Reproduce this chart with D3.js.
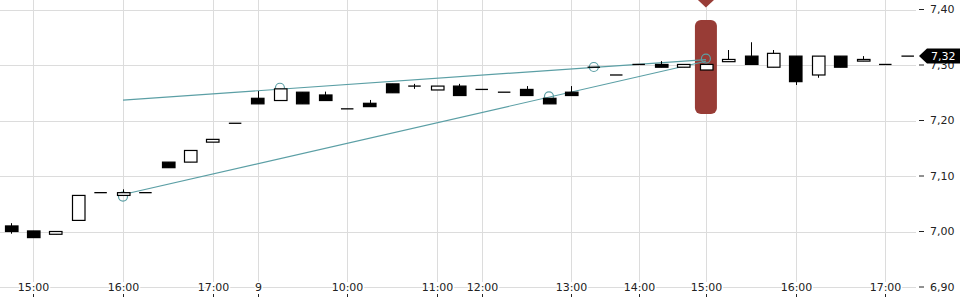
<!DOCTYPE html>
<html>
<head>
<meta charset="utf-8">
<script src="https://cdn.jsdelivr.net/npm/d3@7"></script>
<style>
    body { margin: 0; background: #fff; }
    svg text { font-family: "DejaVu Sans", sans-serif; font-size: 11px; }
    .grid { stroke: #dcdcdc; stroke-width: 1; shape-rendering: crispEdges; }
    .trend { stroke: #5b9fa5; stroke-width: 1.2; fill: none; }
</style>
</head>
<body>
<div id="my_dataviz"></div>
<script>
// 15 minute candles, two sessions (day 8 afternoon, day 9)
var times = ["14:45", "15:00", "15:15", "15:30", "15:45", "16:00", "16:15", "16:30", "16:45", "17:00", "17:15",
             "09:00", "09:15", "09:30", "09:45", "10:00", "10:15", "10:30", "10:45", "11:00", "11:30",
             "12:00", "12:15", "12:30", "12:45", "13:00", "13:15", "13:45", "14:00", "14:15", "14:45",
             "15:00", "15:15", "15:30", "15:45", "16:00", "16:15", "16:30", "16:45", "17:00", "17:15"];
var open  = [7.010, 7.001, 6.995, 7.020, 7.070, 7.065, 7.070, 7.125, 7.125, 7.161, 7.195,
             7.240, 7.236, 7.251, 7.246, 7.221, 7.231, 7.266, 7.262, 7.255, 7.262,
             7.256, 7.251, 7.256, 7.240, 7.251, 7.296, 7.282, 7.301, 7.301, 7.296,
             7.291, 7.306, 7.316, 7.296, 7.316, 7.282, 7.316, 7.307, 7.301, 7.316];
var high  = [7.015, 7.001, 7.000, 7.065, 7.070, 7.076, 7.070, 7.125, 7.146, 7.166, 7.195,
             7.253, 7.257, 7.251, 7.252, 7.221, 7.237, 7.266, 7.266, 7.262, 7.266,
             7.256, 7.251, 7.262, 7.240, 7.262, 7.296, 7.282, 7.301, 7.307, 7.301,
             7.301, 7.327, 7.341, 7.327, 7.316, 7.316, 7.316, 7.316, 7.301, 7.316];
var low   = [6.996, 6.989, 6.995, 7.020, 7.070, 7.065, 7.070, 7.115, 7.125, 7.161, 7.195,
             7.230, 7.236, 7.230, 7.236, 7.221, 7.225, 7.250, 7.257, 7.255, 7.245,
             7.256, 7.251, 7.245, 7.230, 7.245, 7.296, 7.282, 7.301, 7.296, 7.296,
             7.291, 7.306, 7.301, 7.296, 7.264, 7.277, 7.296, 7.307, 7.301, 7.316];
var close = [7.000, 6.989, 7.000, 7.065, 7.070, 7.070, 7.070, 7.115, 7.146, 7.166, 7.195,
             7.230, 7.257, 7.230, 7.236, 7.221, 7.225, 7.250, 7.262, 7.262, 7.245,
             7.256, 7.251, 7.245, 7.230, 7.245, 7.296, 7.282, 7.301, 7.296, 7.301,
             7.301, 7.310, 7.301, 7.321, 7.270, 7.316, 7.296, 7.310, 7.301, 7.316];

// x axis labels (candle index -> label)
var xTickIdx    = [1, 5, 9, 11, 15, 19, 21, 25, 28, 31, 35, 39];
var xTickLabels = ["15:00", "16:00", "17:00", "9", "10:00", "11:00", "12:00", "13:00", "14:00", "15:00", "16:00", "17:00"];
var yTicks = [6.9, 7.0, 7.1, 7.2, 7.3, 7.4];

// drawn trend lines [candle index, price] and their anchor points
var trendUpper = [[5, 7.2368], [31, 7.3097]];
var trendLower = [[5, 7.0667], [31, 7.3067]];
var trendAnchors = [[5, 7.063], [12, 7.259], [24, 7.2436], [26, 7.2964], [31, 7.3115]];

// event marker on this candle
var eventIdx = 31;

var width = 960, height = 300;
var data = times.map(function(t, i) {
    return { t: t, i: i, o: open[i], h: high[i], l: low[i], c: close[i] };
});

var x = d3.scaleLinear().domain([0, data.length - 1]).range([10.9, 907.7]);
var y = d3.scaleLinear().domain([6.9, 7.4]).range([287, 9.5]);
var fmt = function(v) { return v.toFixed(2).replace(".", ","); };

var svg = d3.select("#my_dataviz")
    .append("svg")
        .attr("width", width)
        .attr("height", height);

// grid
svg.selectAll(".hgrid")
    .data(yTicks)
    .enter()
    .append("line")
    .attr("class", "grid")
    .attr("x1", 0).attr("x2", 916)
    .attr("y1", function(d) { return Math.round(y(d)) + 0.5; })
    .attr("y2", function(d) { return Math.round(y(d)) + 0.5; });

svg.selectAll(".vgrid")
    .data(xTickIdx)
    .enter()
    .append("line")
    .attr("class", "grid")
    .attr("x1", function(d) { return Math.round(x(d)) + 0.5; })
    .attr("x2", function(d) { return Math.round(x(d)) + 0.5; })
    .attr("y1", 0).attr("y2", 282);

// event marker
var ex = x(eventIdx);
svg.append("rect")
    .attr("x", ex - 11).attr("y", 20)
    .attr("width", 22).attr("height", 94)
    .attr("rx", 6)
    .attr("fill", "#983c36");
svg.append("path")
    .attr("d", "M" + (ex - 8) + ",0 L" + (ex + 8) + ",0 L" + ex + ",7.5 Z")
    .attr("fill", "#983c36");

// trend lines
var line = d3.line()
    .x(function(d) { return x(d[0]); })
    .y(function(d) { return y(d[1]); });
[trendUpper, trendLower].forEach(function(t) {
    svg.append("path")
        .datum(t)
        .attr("class", "trend")
        .attr("d", line);
});
svg.selectAll(".anchor")
    .data(trendAnchors)
    .enter()
    .append("circle")
    .attr("class", "trend")
    .attr("cx", function(d) { return x(d[0]); })
    .attr("cy", function(d) { return y(d[1]); })
    .attr("r", 4.5);

// candles
var bw = 12.5;
var candle = svg.selectAll(".candle")
    .data(data)
    .enter()
    .append("g")
    .attr("class", "candle");

candle.append("line")
    .attr("x1", function(d) { return Math.round(x(d.i)) + 0.5; })
    .attr("x2", function(d) { return Math.round(x(d.i)) + 0.5; })
    .attr("y1", function(d) { return y(d.h); })
    .attr("y2", function(d) { return y(d.l); })
    .attr("stroke", "#000")
    .attr("stroke-width", 1);

candle.filter(function(d) { return d.o !== d.c; })
    .append("rect")
    .attr("x", function(d) { return Math.round(x(d.i) - bw / 2) + 0.5; })
    .attr("y", function(d) { return y(Math.max(d.o, d.c)); })
    .attr("width", bw)
    .attr("height", function(d) { return Math.max(1, Math.abs(y(d.o) - y(d.c))); })
    .attr("fill", function(d) { return d.c < d.o ? "#000" : "#fff"; })
    .attr("stroke", "#000")
    .attr("stroke-width", 1.2);

candle.filter(function(d) { return d.o === d.c; })
    .append("line")
    .attr("x1", function(d) { return x(d.i) - bw / 2; })
    .attr("x2", function(d) { return x(d.i) + bw / 2; })
    .attr("y1", function(d) { return y(d.c); })
    .attr("y2", function(d) { return y(d.c); })
    .attr("stroke", "#000")
    .attr("stroke-width", 1.3);

// y axis (right)
var ya = svg.selectAll(".ytick")
    .data(yTicks)
    .enter()
    .append("g")
    .attr("transform", function(d) { return "translate(0," + y(d) + ")"; });
ya.append("line")
    .attr("x1", 919).attr("x2", 924)
    .attr("stroke", "#222");
ya.append("text")
    .attr("x", 930)
    .attr("dy", "0.35em")
    .attr("fill", "#222")
    .text(fmt);

// x axis (bottom)
var xa = svg.selectAll(".xtick")
    .data(xTickIdx)
    .enter()
    .append("g")
    .attr("transform", function(d) { return "translate(" + (Math.round(x(d)) + 0.5) + ",0)"; });
xa.append("line")
    .attr("y1", 294).attr("y2", 297)
    .attr("stroke", "#222");
xa.append("text")
    .attr("y", 291)
    .attr("text-anchor", "middle")
    .attr("fill", "#222")
    .attr("stroke", "#fff").attr("stroke-width", 3).attr("paint-order", "stroke")
    .text(function(d, i) { return xTickLabels[i]; });

// last price label
var last = close[close.length - 1], ly = y(last);
svg.append("path")
    .attr("d", "M919," + ly + " L927," + (ly - 7.5) + " L960," + (ly - 7.5) + " L960," + (ly + 7.5) + " L927," + (ly + 7.5) + " Z")
    .attr("fill", "#000");
svg.append("text")
    .attr("x", 931)
    .attr("y", ly)
    .attr("dy", "0.36em")
    .attr("fill", "#fff")
    .text(fmt(last));
</script>
</body>
</html>
